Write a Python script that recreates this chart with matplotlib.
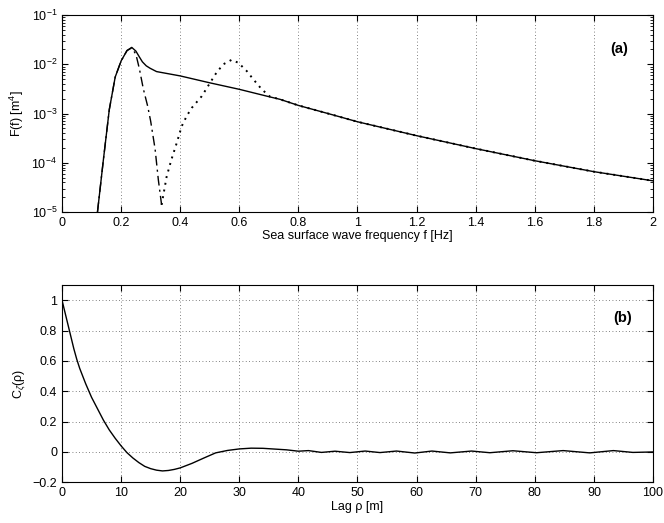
import numpy as np
import matplotlib
matplotlib.use('Agg')
import matplotlib.pyplot as plt
from matplotlib.ticker import LogLocator, NullFormatter

plt.rcParams['font.family'] = ['Liberation Sans', 'DejaVu Sans']
plt.rcParams['font.size'] = 9
plt.rcParams['mathtext.fontset'] = 'custom'
plt.rcParams['mathtext.rm'] = 'Liberation Sans'
plt.rcParams['mathtext.it'] = 'Liberation Sans:italic'

# (a) spectrum
f_total = [0.12, 0.14, 0.16, 0.18, 0.20, 0.22, 0.236, 0.25, 0.262, 0.272,
           0.285, 0.298, 0.32, 0.40, 0.50, 0.60, 0.70, 0.738, 0.80, 0.90, 1.0,
           1.2, 1.4, 1.6, 1.8, 2.0]
F_total = [1e-5, 1.15e-4, 1.2e-3, 5.5e-3, 1.17e-2, 1.9e-2, 2.2e-2, 1.85e-2,
           1.4e-2, 1.12e-2, 9.3e-3, 8.3e-3, 7.1e-3, 5.8e-3, 4.2e-3, 3.1e-3,
           2.2e-3, 1.94e-3, 1.46e-3, 1.0e-3, 6.8e-4, 3.55e-4, 1.94e-4, 1.1e-4,
           6.6e-5, 4.3e-5]

f_swell = [0.12, 0.14, 0.16, 0.18, 0.20, 0.22, 0.236, 0.25, 0.262, 0.275,
           0.29, 0.30, 0.315, 0.326, 0.337]
F_swell = [1e-5, 1.15e-4, 1.2e-3, 5.5e-3, 1.17e-2, 1.9e-2, 2.15e-2, 1.6e-2,
           8.0e-3, 3.2e-3, 1.4e-3, 7.0e-4, 1.9e-4, 4.5e-5, 1.4e-5]

f_wind = [0.337, 0.354, 0.365, 0.371, 0.388, 0.405, 0.422, 0.439, 0.473,
          0.501, 0.523, 0.546, 0.574, 0.597, 0.625, 0.648, 0.676, 0.704, 0.738,
          0.80, 0.90, 1.0, 1.2, 1.4, 1.6, 1.8, 2.0]
F_wind = [1.4e-5, 5.2e-5, 9.0e-5, 1.2e-4, 2.5e-4, 5.5e-4, 8.9e-4, 1.3e-3,
          2.25e-3, 4.2e-3, 6.8e-3, 1.0e-2, 1.23e-2, 1.07e-2, 7.3e-3, 4.9e-3,
          3.1e-3, 2.2e-3, 1.94e-3, 1.46e-3, 1.0e-3, 6.8e-4, 3.55e-4, 1.94e-4,
          1.1e-4, 6.6e-5, 4.3e-5]

# (b) correlation function
lag = [0, 0.5, 1, 1.5, 2, 2.5, 3, 4, 5, 6, 7, 8, 9, 10, 11, 12, 13, 14, 15,
       16, 17, 18, 19, 20, 22, 24, 26, 28, 30, 32, 34, 36, 38, 40, 41.7, 43.9,
       46.2, 48.7, 51.3, 53.8, 56.6, 59.7, 62.6, 65.7, 69.3, 72.4, 76.3, 80.3,
       84.8, 89.3, 93.3, 96.6, 100]
corr = [1.0, 0.92, 0.84, 0.76, 0.68, 0.61, 0.55, 0.45, 0.36, 0.285, 0.21,
        0.145, 0.09, 0.04, -0.005, -0.04, -0.07, -0.095, -0.11, -0.12, -0.125,
        -0.122, -0.115, -0.105, -0.075, -0.04, -0.006, 0.01, 0.02, 0.025,
        0.024, 0.019, 0.014, 0.005, 0.009, -0.003, 0.005, -0.004, 0.006,
        -0.004, 0.006, -0.007, 0.006, -0.006, 0.006, -0.005, 0.008, -0.005,
        0.009, -0.006, 0.009, -0.003, 0.0]

fig = plt.figure(figsize=(6.64, 5.23), dpi=100)
ax1 = fig.add_axes([0.0934, 0.5946, 0.890, 0.3767])
ax2 = fig.add_axes([0.0934, 0.0778, 0.890, 0.3772])

ax1.semilogy(f_total, F_total, color='k', lw=1.0)
ax1.semilogy(f_swell, F_swell, color='k', lw=1.0, ls=(0, (7, 3, 1.5, 3)))
ax1.semilogy(f_wind, F_wind, color='k', lw=1.4, ls=(0, (1, 2.5)))
ax1.set_xlim(0, 2)
ax1.set_ylim(1e-5, 1e-1)
ax1.set_xticks(np.arange(0, 2.01, 0.2))
ax1.set_xticklabels(['0', '0.2', '0.4', '0.6', '0.8', '1', '1.2', '1.4',
                     '1.6', '1.8', '2'])
ax1.yaxis.set_major_locator(LogLocator(base=10, numticks=10))
ax1.yaxis.set_minor_locator(LogLocator(base=10, subs=np.arange(2, 10), numticks=20))
ax1.yaxis.set_minor_formatter(NullFormatter())
ax1.grid(True, axis='x', ls=(0, (1, 3)), color='0.35', lw=0.6)
ax1.set_xlabel('Sea surface wave frequency f [Hz]', labelpad=1)
ax1.set_ylabel('F(f) [m$^4$]')
ax1.text(1.885, 2.0e-2, '(a)', fontweight='bold', fontsize=10.5,
         ha='center', va='center')

ax2.plot(lag, corr, color='k', lw=1.0)
ax2.set_xlim(0, 100)
ax2.set_ylim(-0.2, 1.1)
ax2.set_xticks(np.arange(0, 101, 10))
ax2.set_yticks(np.arange(-0.2, 1.01, 0.2))
ax2.set_yticklabels(['\u22120.2', '0', '0.2', '0.4', '0.6', '0.8', '1'])
ax2.grid(True, ls=(0, (1, 3)), color='0.35', lw=0.6)
ax2.set_xlabel('Lag \u03c1 [m]', labelpad=1)
ax2.set_ylabel('C$_\u03b6$(\u03c1)')
ax2.text(94.8, 0.886, '(b)', fontweight='bold', fontsize=10.5,
         ha='center', va='center')

for ax in (ax1, ax2):
    ax.tick_params(which='both', direction='in', top=True, right=True)
    ax.tick_params(which='major', length=4)
    ax.tick_params(which='minor', length=2)
    for s in ax.spines.values():
        s.set_linewidth(0.8)

fig.savefig('out.png', dpi=100)
